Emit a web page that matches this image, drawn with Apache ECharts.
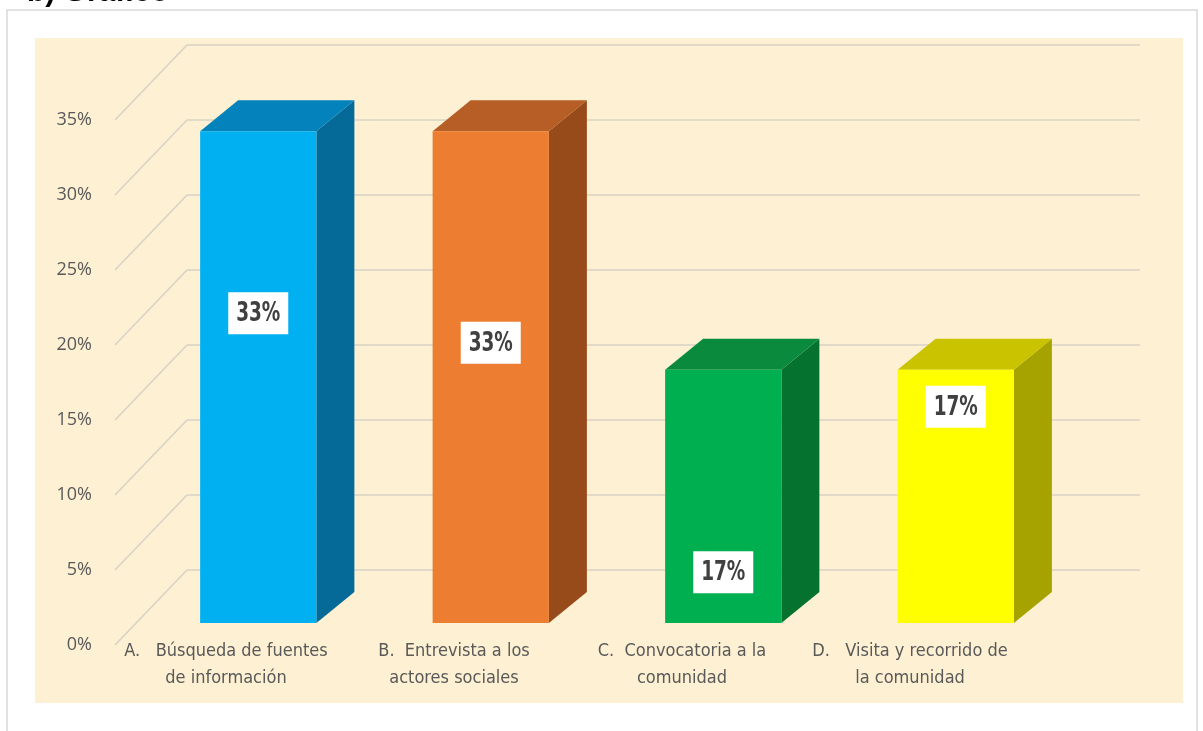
<!DOCTYPE html>
<html><head><meta charset="utf-8">
<script src="https://cdn.jsdelivr.net/npm/echarts@6/dist/echarts.min.js"></script>
<style>html,body{margin:0;padding:0;background:#fff}#c{width:1203px;height:731px}</style>
</head><body><div id="c"></div>
<script>
// ---- data ----
const categories = [
  'A.   Búsqueda de fuentes\nde información',
  'B.  Entrevista a los\nactores sociales',
  'C.  Convocatoria a la\ncomunidad',
  'D.   Visita y recorrido de\nla comunidad'
];
const values = [33, 33, 17, 17];
const valueLabels = ['33%', '33%', '17%', '17%'];
const yTicks = [0, 5, 10, 15, 20, 25, 30, 35];
const yTickLabels = ['0%', '5%', '10%', '15%', '20%', '25%', '30%', '35%'];

// ---- styles / layout ----
const frontColors = ['#00B0F0', '#ED7D31', '#00B050', '#FFFF00'];
const topColors = ['#0382BC', '#B65E26', '#0A8A3C', '#C9C300'];
const sideColors = ['#066A98', '#974B1A', '#06722F', '#A6A200'];
const labelFrac = [0.37, 0.43, 0.80, 0.146];
const barDepth = [38, -31];
const wallDepth = [72, -75];
const narrow = '"Liberation Sans Narrow", "Arial Narrow", "DejaVu Sans Condensed", sans-serif';

const chart = echarts.init(document.getElementById('c'));
chart.setOption({
  backgroundColor: '#ffffff',
  animation: false,
  graphic: [
    { type: 'rect', z: -20, silent: true, shape: { x: 7, y: 10, width: 1190, height: 760 },
      style: { fill: '#ffffff', stroke: '#d9d9d9', lineWidth: 1.5 } },
    { type: 'rect', z: -10, silent: true, shape: { x: 35, y: 38, width: 1148, height: 665 },
      style: { fill: '#FEF0D2' } },
    { type: 'text', z: 10, silent: true,
      style: { text: 'b) Gráfico', x: 27, y: 8, verticalAlign: 'bottom',
        font: 'bold 30px "Liberation Sans", Arial, sans-serif', fill: '#000' } }
  ],
  grid: [
    { left: 115, width: 953, top: 120, height: 525 },
    { left: 142, width: 930, top: 623 - 35 * 14.9, height: 35 * 14.9 },
    { left: 112, width: 912, top: 600, height: 38 }
  ],
  xAxis: [
    { gridIndex: 0, type: 'value', min: 0, max: 1, show: false },
    { gridIndex: 1, type: 'category', data: categories, show: false },
    { gridIndex: 2, type: 'category', data: categories, position: 'bottom',
      axisLine: { show: false }, axisTick: { show: false },
      axisLabel: { margin: 0, color: '#595959', fontSize: 18, lineHeight: 27, fontFamily: narrow, interval: 0 } }
  ],
  yAxis: [
    { gridIndex: 0, type: 'value', min: 0, max: 35, interval: 5,
      axisLine: { show: false }, axisTick: { show: false }, splitLine: { show: false },
      axisLabel: { margin: 23, color: '#595959', fontSize: 18, fontFamily: '"Open Sans", sans-serif',
        formatter: v => yTickLabels[yTicks.indexOf(v)] } },
    { gridIndex: 1, type: 'value', min: 0, max: 35, show: false },
    { gridIndex: 2, type: 'value', show: false }
  ],
  series: [
    {
      type: 'custom', xAxisIndex: 0, yAxisIndex: 0, z: 2, silent: true,
      data: yTicks.map(v => [0, v]),
      renderItem: (params, api) => {
        const v = api.value(1);
        const p = api.coord([0, v]);
        const q = api.coord([1, v]);
        const b = [p[0] + wallDepth[0], p[1] + wallDepth[1]];
        const e = [q[0] + wallDepth[0], q[1] + wallDepth[1]];
        const st = { stroke: '#D8D3C6', lineWidth: 1.6, fill: null };
        return { type: 'group', children: [
          { type: 'line', shape: { x1: p[0], y1: p[1], x2: b[0], y2: b[1] }, style: st },
          { type: 'line', shape: { x1: b[0], y1: b[1], x2: e[0], y2: e[1] }, style: st }
        ] };
      }
    },
    {
      type: 'custom', xAxisIndex: 1, yAxisIndex: 1, z: 5, silent: true,
      data: values.map((v, i) => [i, v]),
      renderItem: (params, api) => {
        const i = params.dataIndex;
        const top = api.coord([api.value(0), api.value(1)]);
        const base = api.coord([api.value(0), 0]);
        const band = api.size([1, 0])[0];
        const w = band * 0.5;
        const x0 = top[0] - w / 2, x1 = top[0] + w / 2;
        const dx = barDepth[0], dy = barDepth[1];
        const ly = top[1] + labelFrac[i] * (base[1] - top[1]);
        return { type: 'group', children: [
          { type: 'polygon', shape: { points: [[x1, top[1]], [x1 + dx, top[1] + dy], [x1 + dx, base[1] + dy], [x1, base[1]]] },
            style: { fill: sideColors[i] } },
          { type: 'polygon', shape: { points: [[x0, top[1]], [x0 + dx, top[1] + dy], [x1 + dx, top[1] + dy], [x1, top[1]]] },
            style: { fill: topColors[i] } },
          { type: 'rect', shape: { x: x0, y: top[1], width: w, height: base[1] - top[1] },
            style: { fill: frontColors[i] } },
          { type: 'rect', shape: { x: top[0] - 30, y: ly - 21, width: 60, height: 42 },
            style: { fill: '#ffffff' } },
          { type: 'text', x: top[0], y: ly + 1, scaleX: 0.76,
            style: { text: valueLabels[i], x: 0, y: 0, align: 'center', verticalAlign: 'middle',
              font: 'bold 27px ' + narrow, fill: '#404040' } }
        ] };
      }
    }
  ]
});
</script>
</body></html>
